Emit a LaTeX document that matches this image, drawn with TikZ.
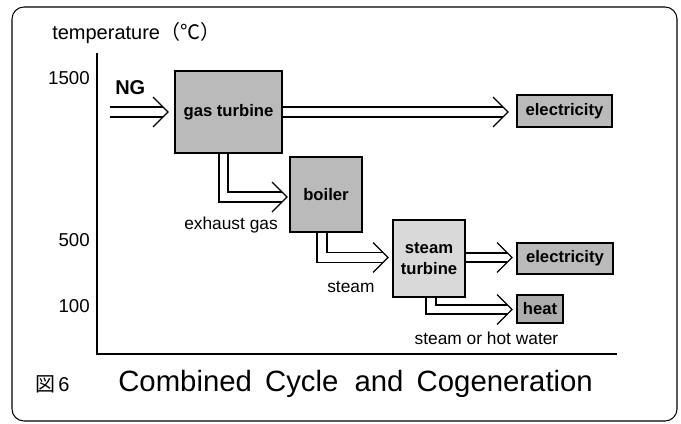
\documentclass[tikz,border=0pt]{standalone}
\usepackage{fontspec}
\setmainfont{Liberation Sans}
\newfontfamily\jpfont{Noto Sans CJK JP}
\usetikzlibrary{calc}

\begin{document}
\begin{tikzpicture}[x=0.75pt,y=-0.75pt,
  unit box/.style={draw=black,line width=1.1pt,inner sep=0pt,outer sep=0pt,
    font=\bfseries\fontsize{12.5}{14}\selectfont,align=center},
  dark box/.style={unit box,fill=black!27},
  light box/.style={unit box,fill=black!15},
  flow/.style={line width=0.9pt,line join=miter},
  axis line/.style={line width=1.9pt},
  label/.style={inner sep=0pt,font=\fontsize{13}{15}\selectfont},
  tick label/.style={inner sep=0pt,anchor=east,font=\fontsize{14}{16}\selectfont},
]
\useasboundingbox (0,0) rectangle (681,424);

% outer frame
\draw[line width=0.8pt,rounded corners=9pt] (12,7) rectangle (677,421);

% axes
\coordinate (ytop) at (97,53);
\coordinate (origin) at (97,354);
\coordinate (xend) at (617,354);
\draw[axis line] (ytop) -- (origin) -- (xend);

\node[inner sep=0pt,anchor=west,font=\fontsize{15}{17}\selectfont] (ylabel) at (52,33)
  {temperature{\jpfont （℃）}};
\node[tick label] (t1500) at (90,78) {1500};
\node[tick label] (t500) at (90,240) {500};
\node[tick label] (t100) at (90,306) {100};

% units
\node[dark box,minimum width=80.25pt,minimum height=61.5pt] (gt) at (228.5,112) {gas turbine};
\node[dark box,minimum width=54pt,minimum height=56.25pt] (boiler) at (326,194.5) {boiler};
\node[light box,minimum width=54pt,minimum height=57.75pt,
      font=\bfseries\fontsize{12.5}{16}\selectfont] (st) at (429,258.5) {steam\\turbine};
\node[dark box,minimum width=71.25pt,minimum height=24pt] (el1) at (564.5,111) {electricity};
\node[dark box,minimum width=72pt,minimum height=23.25pt] (el2) at (565,258.5) {electricity};
\node[dark box,fill=black!32,minimum width=34.5pt,minimum height=21pt] (heat) at (540,309) {heat};

% NG inlet
\coordinate (ngin) at (110,112);
\coordinate (ngtip) at ($(gt.west)+(-7,0)$);
\node[inner sep=0pt,anchor=west,font=\bfseries\fontsize{15}{17}\selectfont] (ng) at (115,88) {NG};
\draw[flow] ($(ngin)+(0,-5)$) -- ($(ngtip)+(-5,-5)$);
\draw[flow] ($(ngin)+(0,5)$) -- ($(ngtip)+(-5,5)$);
\draw[flow] ($(ngtip)+(-15,-15)$) -- (ngtip) -- ($(ngtip)+(-15,15)$);

% gas turbine -> electricity
\coordinate (e1tip) at ($(el1.west)+(-9,1)$);
\draw[flow] ($(gt.east)+(0,-5)$) -- ($(e1tip)+(-5,-5)$);
\draw[flow] ($(gt.east)+(0,5)$) -- ($(e1tip)+(-5,5)$);
\draw[flow] ($(e1tip)+(-15,-15)$) -- (e1tip) -- ($(e1tip)+(-15,15)$);

% gas turbine -> boiler (exhaust gas)
\coordinate (bltip) at ($(boiler.west)+(-3,2.5)$);
\draw[flow] (gt.south -| 219,0) |- ($(bltip)+(-5,5)$);
\draw[flow] (gt.south -| 228,0) |- ($(bltip)+(-5,-5)$);
\draw[flow] ($(bltip)+(-15,-15)$) -- (bltip) -- ($(bltip)+(-15,15)$);
\node[label] (exh) at (231,225) {exhaust gas};

% boiler -> steam turbine (steam)
\coordinate (sttip) at ($(st.west)+(-5,-1)$);
\draw[flow] (boiler.south -| 317,0) |- ($(sttip)+(-5,5)$);
\draw[flow] (boiler.south -| 327,0) |- ($(sttip)+(-5,-5)$);
\draw[flow] ($(sttip)+(-15,-15)$) -- (sttip) -- ($(sttip)+(-15,15)$);
\node[label,anchor=west] (stm) at (327,287) {steam};

% steam turbine -> electricity
\coordinate (e2tip) at ($(el2.west)+(-5,-1)$);
\draw[flow] ($(st.east)+(0,-5.5)$) -- ($(e2tip)+(-5,-4.5)$);
\draw[flow] ($(st.east)+(0,3.5)$) -- ($(e2tip)+(-5,4.5)$);
\draw[flow] ($(e2tip)+(-15,-15)$) -- (e2tip) -- ($(e2tip)+(-15,15)$);

% steam turbine -> heat
\coordinate (httip) at ($(heat.west)+(-5,0.5)$);
\draw[flow] (st.south -| 426,0) |- ($(httip)+(-5,4.5)$);
\draw[flow] (st.south -| 436,0) |- ($(httip)+(-5,-4.5)$);
\draw[flow] ($(httip)+(-15,-15)$) -- (httip) -- ($(httip)+(-15,15)$);
\node[label] (shw) at (486.5,338) {steam or hot water};

% caption
\node[inner sep=0pt,anchor=west,font=\fontsize{15}{17}\selectfont] (fig) at (35,384)
  {{\jpfont 図}\hspace{0.15em}6};
\node[inner sep=0pt,anchor=west,font=\fontsize{22}{25}\selectfont] (title) at (118,384)
  {Combined\hspace{0.45em}Cycle\hspace{0.55em}and\hspace{0.45em}Cogeneration};
\end{tikzpicture}
\end{document}
